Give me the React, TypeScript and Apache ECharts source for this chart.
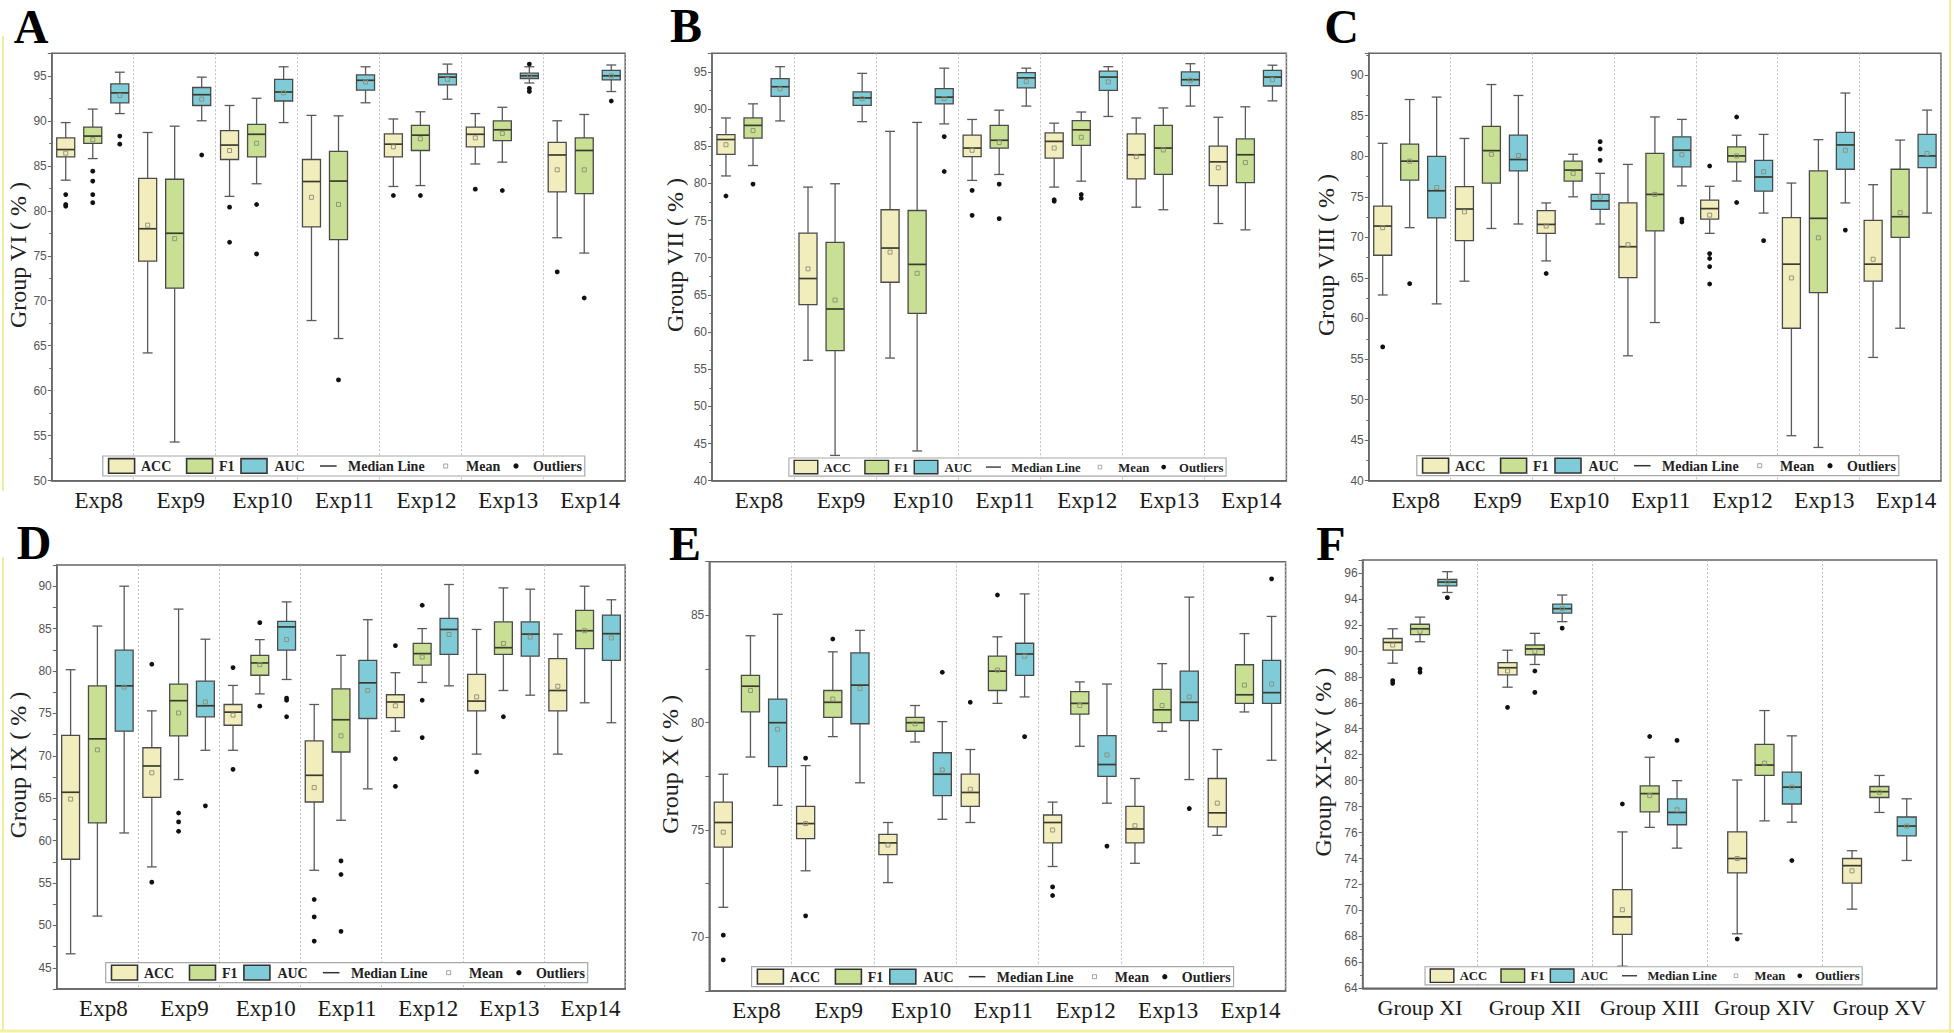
import React, { useEffect, useRef } from 'react';
import * as echarts from 'echarts';

// ---------- categories ----------
const EXP_CATS = ['Exp8', 'Exp9', 'Exp10', 'Exp11', 'Exp12', 'Exp13', 'Exp14'];
const GROUP_CATS = ['Group XI', 'Group XII', 'Group XIII', 'Group XIV', 'Group XV'];
const METRICS = ['ACC', 'F1', 'AUC'];

// ---------- data: each row = [min, Q1, median, Q3, max, mean] ----------
// outliers: [categoryIndex, metricIndex (0 ACC, 1 F1, 2 AUC), value]
const A_ACC = [
  [83.4, 86.0, 86.8, 88.1, 89.8, 86.4],
  [64.2, 74.4, 78.0, 83.6, 88.7, 78.4],
  [81.6, 85.7, 87.3, 88.9, 91.7, 86.7],
  [67.8, 78.2, 83.25, 85.7, 90.6, 81.5],
  [82.7, 86.0, 87.4, 88.55, 90.2, 87.1],
  [85.2, 87.1, 88.5, 89.3, 90.8, 88.1],
  [77.0, 82.1, 86.2, 87.6, 90.0, 84.55],
];
const A_F1 = [
  [85.8, 87.5, 88.3, 89.3, 91.3, 87.9],
  [54.3, 71.4, 77.5, 83.5, 89.4, 76.9],
  [83.0, 86.0, 88.5, 89.6, 92.5, 87.5],
  [65.8, 76.8, 83.3, 86.6, 90.55, 80.7],
  [82.8, 86.7, 88.4, 89.5, 91.0, 88.0],
  [85.4, 87.8, 89.0, 90.0, 91.5, 88.6],
  [75.3, 81.9, 86.7, 88.1, 90.7, 84.55],
];
const A_AUC = [
  [90.8, 92.0, 93.1, 94.1, 95.4, 92.8],
  [90.0, 91.7, 92.9, 93.7, 94.85, 92.4],
  [89.8, 92.2, 93.2, 94.6, 96.0, 93.1],
  [92.0, 93.4, 94.5, 95.1, 96.0, 94.3],
  [92.4, 94.0, 94.85, 95.2, 96.3, 94.6],
  [94.2, 94.7, 95.0, 95.3, 96.0, 95.0],
  [93.25, 94.55, 95.0, 95.6, 96.2, 95.0],
];
const A_OUT = [
  [0, 0, 81.8], [0, 0, 80.7], [0, 0, 80.5],
  [0, 1, 84.4], [0, 1, 83.3], [0, 1, 81.8], [0, 1, 80.9],
  [0, 2, 88.3], [0, 2, 87.4],
  [1, 2, 86.2],
  [2, 0, 80.4], [2, 0, 76.5], [2, 1, 80.7], [2, 1, 75.2],
  [3, 1, 61.2],
  [4, 0, 81.7], [4, 1, 81.7],
  [5, 0, 82.4], [5, 1, 82.25], [5, 2, 96.3], [5, 2, 93.6], [5, 2, 93.25],
  [6, 0, 73.2], [6, 1, 70.3], [6, 2, 92.2],
];

const B_ACC = [
  [81.0, 83.9, 85.9, 86.55, 88.8, 85.2],
  [56.2, 63.7, 67.2, 73.3, 79.5, 68.5],
  [56.5, 66.7, 71.3, 76.45, 87.0, 70.75],
  [80.4, 83.6, 84.75, 86.5, 88.6, 84.45],
  [79.5, 83.4, 85.65, 86.8, 88.1, 84.75],
  [76.8, 80.6, 83.85, 86.65, 88.8, 83.6],
  [74.6, 79.7, 82.9, 85.0, 88.9, 82.1],
];
const B_F1 = [
  [82.4, 86.1, 87.8, 88.8, 90.7, 87.1],
  [43.4, 57.5, 63.1, 72.05, 79.95, 64.3],
  [44.0, 62.5, 69.1, 76.35, 88.2, 67.9],
  [81.2, 84.75, 85.8, 87.8, 89.85, 85.5],
  [80.3, 85.1, 87.2, 88.45, 89.6, 86.2],
  [76.45, 81.2, 84.75, 87.8, 90.15, 84.5],
  [73.75, 80.1, 83.85, 86.0, 90.3, 82.8],
];
const B_AUC = [
  [88.4, 91.7, 93.0, 94.1, 95.7, 92.7],
  [88.3, 90.5, 91.5, 92.3, 94.8, 91.4],
  [88.0, 90.7, 91.6, 92.75, 95.5, 91.4],
  [90.4, 92.85, 94.2, 94.9, 95.5, 93.7],
  [89.0, 92.5, 94.3, 95.1, 95.7, 93.65],
  [90.4, 93.15, 93.95, 95.0, 96.1, 93.9],
  [91.1, 93.1, 94.3, 95.2, 95.9, 93.95],
];
const B_OUT = [
  [0, 0, 78.3], [0, 1, 79.9],
  [2, 2, 86.3], [2, 2, 81.6],
  [3, 0, 79.05], [3, 0, 75.7], [3, 1, 79.9], [3, 1, 75.25],
  [4, 0, 77.8], [4, 0, 77.6], [4, 1, 78.5], [4, 1, 78.0],
];

const C_ACC = [
  [62.9, 67.8, 71.4, 73.85, 81.6, 71.2],
  [64.6, 69.6, 73.5, 76.25, 82.2, 73.15],
  [67.1, 70.5, 71.6, 73.3, 74.25, 71.4],
  [55.4, 65.05, 68.85, 74.25, 79.0, 69.1],
  [70.5, 72.25, 73.55, 74.6, 76.3, 72.75],
  [45.55, 58.8, 66.7, 72.45, 76.7, 65.0],
  [55.2, 64.6, 66.7, 72.1, 76.5, 67.3],
];
const C_F1 = [
  [71.2, 77.05, 79.4, 81.5, 87.0, 79.4],
  [71.1, 76.7, 80.7, 83.7, 88.85, 80.25],
  [75.0, 76.95, 78.3, 79.4, 80.25, 77.9],
  [59.5, 70.8, 75.3, 80.35, 84.85, 75.3],
  [76.95, 79.3, 80.05, 81.15, 82.6, 80.05],
  [44.1, 63.2, 72.35, 78.2, 82.05, 69.95],
  [58.8, 70.0, 72.55, 78.4, 82.0, 73.05],
];
const C_AUC = [
  [61.8, 72.4, 75.75, 80.0, 87.3, 76.15],
  [71.65, 78.2, 79.6, 82.6, 87.5, 80.1],
  [71.65, 73.45, 74.5, 75.3, 77.9, 75.0],
  [76.35, 78.7, 80.75, 82.4, 84.55, 80.2],
  [73.0, 75.7, 77.45, 79.5, 82.7, 78.1],
  [74.25, 78.4, 81.4, 82.95, 87.8, 80.75],
  [73.0, 78.6, 80.05, 82.7, 85.7, 80.35],
];
const C_OUT = [
  [0, 0, 56.5], [0, 1, 64.3],
  [2, 0, 65.55], [2, 2, 81.8], [2, 2, 80.9], [2, 2, 79.5],
  [3, 2, 72.25], [3, 2, 71.9],
  [4, 0, 78.8], [4, 0, 68.0], [4, 0, 67.4], [4, 0, 66.4], [4, 0, 64.25],
  [4, 1, 84.85], [4, 1, 74.3], [4, 2, 69.6],
  [5, 2, 70.9],
];

const D_ACC = [
  [46.65, 57.8, 65.7, 72.4, 80.15, 64.9],
  [56.9, 65.1, 68.8, 70.95, 75.3, 68.0],
  [70.65, 73.6, 75.15, 76.05, 78.3, 74.8],
  [56.5, 64.55, 67.7, 71.75, 76.05, 66.25],
  [72.9, 74.5, 76.35, 77.2, 79.8, 75.9],
  [70.2, 75.3, 76.45, 79.6, 84.9, 76.95],
  [70.2, 75.3, 77.7, 81.45, 84.35, 78.2],
];
const D_F1 = [
  [51.1, 62.1, 72.0, 78.25, 85.3, 70.7],
  [67.2, 72.35, 76.5, 78.45, 87.3, 75.05],
  [77.3, 79.5, 80.95, 81.85, 83.7, 80.75],
  [62.4, 70.45, 74.25, 77.9, 81.85, 72.35],
  [78.65, 80.7, 82.05, 83.25, 85.0, 81.65],
  [77.7, 81.95, 82.75, 85.8, 89.8, 83.25],
  [76.25, 82.65, 84.75, 87.15, 90.0, 84.75],
];
const D_AUC = [
  [60.9, 72.9, 78.25, 82.45, 90.0, 78.1],
  [70.65, 74.6, 75.9, 78.8, 83.75, 76.35],
  [79.0, 82.45, 85.2, 85.85, 88.15, 83.7],
  [66.1, 74.4, 78.6, 81.25, 86.05, 77.7],
  [78.25, 81.95, 84.9, 86.2, 90.2, 84.3],
  [77.15, 81.75, 84.35, 85.8, 89.65, 84.0],
  [73.9, 81.25, 84.4, 86.6, 88.4, 83.9],
];
const D_OUT = [
  [1, 0, 80.8], [1, 0, 55.1], [1, 1, 63.25], [1, 1, 62.2], [1, 1, 61.1], [1, 2, 64.1],
  [2, 0, 80.4], [2, 0, 68.4], [2, 1, 85.7], [2, 1, 75.85], [2, 2, 76.8], [2, 2, 76.55], [2, 2, 74.6],
  [3, 0, 53.05], [3, 0, 51.0], [3, 0, 48.15], [3, 1, 57.6], [3, 1, 56.0], [3, 1, 49.3],
  [4, 0, 83.0], [4, 0, 69.65], [4, 0, 66.4], [4, 1, 87.75], [4, 1, 76.55], [4, 1, 72.15],
  [5, 0, 68.1], [5, 1, 74.6],
];

const E_ACC = [
  [71.4, 74.2, 75.35, 76.3, 77.6, 74.9],
  [73.1, 74.6, 75.3, 76.1, 78.0, 75.3],
  [72.55, 73.85, 74.4, 74.8, 75.35, 74.3],
  [75.35, 76.1, 76.75, 77.6, 78.75, 76.9],
  [73.3, 74.4, 75.35, 75.7, 76.3, 75.0],
  [73.45, 74.4, 75.05, 76.1, 77.4, 75.2],
  [74.75, 75.15, 75.8, 77.4, 78.75, 76.25],
];
const E_F1 = [
  [78.4, 80.5, 81.7, 82.2, 84.05, 81.5],
  [79.35, 80.25, 80.95, 81.5, 83.3, 81.1],
  [79.1, 79.6, 80.0, 80.25, 80.8, 79.95],
  [80.9, 81.5, 82.4, 83.1, 84.0, 82.45],
  [78.9, 80.4, 80.9, 81.45, 81.9, 80.8],
  [79.6, 80.0, 80.6, 81.55, 82.75, 80.8],
  [80.5, 80.9, 81.3, 82.7, 84.15, 81.75],
];
const E_AUC = [
  [76.15, 77.95, 80.0, 81.1, 85.05, 79.7],
  [77.2, 79.95, 81.75, 83.25, 84.3, 81.6],
  [75.5, 76.6, 77.6, 78.6, 80.05, 77.8],
  [81.2, 82.2, 83.2, 83.7, 86.0, 83.1],
  [76.25, 77.5, 78.05, 79.4, 81.8, 78.5],
  [77.35, 80.1, 80.95, 82.4, 85.85, 81.2],
  [78.25, 80.9, 81.4, 82.9, 84.95, 81.8],
];
const E_OUT = [
  [0, 0, 70.1], [0, 0, 68.95],
  [1, 0, 78.35], [1, 0, 71.0], [1, 1, 83.9],
  [2, 2, 82.35],
  [3, 0, 80.95], [3, 1, 85.95], [3, 2, 79.35],
  [4, 0, 72.35], [4, 0, 71.95], [4, 2, 74.25],
  [5, 2, 76.0],
  [6, 2, 86.7],
];

const F_ACC = [
  [89.05, 90.05, 90.65, 90.95, 91.7, 90.45],
  [87.2, 88.15, 88.7, 89.1, 90.05, 88.45],
  [65.7, 68.15, 69.5, 71.6, 76.05, 70.05],
  [68.2, 72.9, 74.0, 76.05, 80.05, 74.0],
  [70.1, 72.1, 73.45, 74.0, 74.6, 73.05],
];
const F_F1 = [
  [90.7, 91.25, 91.7, 92.05, 92.6, 91.5],
  [88.95, 89.7, 90.15, 90.45, 91.35, 89.95],
  [76.4, 77.6, 79.0, 79.6, 81.8, 78.85],
  [76.9, 80.4, 81.2, 82.8, 85.4, 81.35],
  [77.55, 78.7, 79.15, 79.55, 80.4, 79.1],
];
const F_AUC = [
  [94.5, 95.0, 95.3, 95.5, 96.1, 95.3],
  [92.25, 92.9, 93.25, 93.6, 94.3, 93.25],
  [74.8, 76.6, 77.55, 78.6, 80.0, 77.75],
  [76.8, 78.2, 79.5, 80.65, 83.45, 79.5],
  [73.85, 75.75, 76.5, 77.2, 78.6, 76.5],
];
const F_OUT = [
  [0, 0, 87.7], [0, 0, 87.5], [0, 1, 88.6], [0, 1, 88.35], [0, 2, 94.1],
  [1, 0, 85.65], [1, 1, 88.45], [1, 1, 86.8], [1, 2, 91.75],
  [2, 0, 78.2], [2, 1, 83.4], [2, 2, 83.1],
  [3, 0, 67.8], [3, 2, 73.85],
];

// ---------- styling ----------
const SERIF = '"Liberation Serif", "Times New Roman", serif';
const SANS = '"Liberation Sans", Arial, sans-serif';
const FILLS = ['#F2EDBD', '#C9DF94', '#80CBD8'];
const AXIS_C = '#666';

const PANELS = [
  { letter: 'A', lx: 31, ly: 26, grid: { left: 51.8, top: 53.3, width: 573.4, height: 427.4 }, cats: EXP_CATS,
    yName: 'Group VI ( % )', nameGap: 21, min: 50, max: 97.5, interval: 5, step: 5, minor: 2,
    data: [A_ACC, A_F1, A_AUC], out: A_OUT, legend: [102.8, 456, 1], off: 0.33, bw: 0.22, shift: 12, xFont: 23 },
  { letter: 'B', lx: 686, ly: 25, grid: { left: 712, top: 53.3, width: 574.4, height: 427.4 }, cats: EXP_CATS,
    yName: 'Group VII ( % )', nameGap: 25, min: 40, max: 97.5, interval: 5, step: 5, minor: 2,
    data: [B_ACC, B_F1, B_AUC], out: B_OUT, legend: [788.9, 458, 0.907], off: 0.33, bw: 0.22, shift: 12, xFont: 23 },
  { letter: 'C', lx: 1341.7, ly: 26.5, grid: { left: 1368.8, top: 53.3, width: 572.2, height: 427.4 }, cats: EXP_CATS,
    yName: 'Group VIII ( % )', nameGap: 30.8, min: 40, max: 92.7, interval: 5, step: 5, minor: 2,
    data: [C_ACC, C_F1, C_AUC], out: C_OUT, legend: [1416.8, 455.7, 1], off: 0.33, bw: 0.22, shift: 12, xFont: 23 },
  { letter: 'D', lx: 34, ly: 542.5, grid: { left: 56.8, top: 565, width: 568.4, height: 424 }, cats: EXP_CATS,
    yName: 'Group IX ( % )', nameGap: 27, min: 42.5, max: 92.5, interval: 2.5, step: 5, minor: 0,
    data: [D_ACC, D_F1, D_AUC], out: D_OUT, legend: [105.7, 962.7, 1], off: 0.33, bw: 0.22, shift: 12, xFont: 23 },
  { letter: 'E', lx: 685, ly: 543, grid: { left: 709.3, top: 561.7, width: 576.3, height: 429.3 }, cats: EXP_CATS,
    yName: 'Group X ( % )', nameGap: 27, min: 67.5, max: 87.5, interval: 2.5, step: 5, minor: 0,
    data: [E_ACC, E_F1, E_AUC], out: E_OUT, legend: [751.6, 966.7, 1], off: 0.33, bw: 0.22, shift: 12, xFont: 23 },
  { letter: 'F', lx: 1331, ly: 543, grid: { left: 1362.6, top: 560, width: 574.2, height: 428.3 }, cats: GROUP_CATS,
    yName: 'Group XI-XV ( % )', nameGap: 27.6, min: 64, max: 97, interval: 2, step: 2, minor: 2,
    data: [F_ACC, F_F1, F_AUC], out: F_OUT, legend: [1425, 966.7, 0.907], off: 0.238, bw: 0.165, shift: 0, xFont: 22 },
];

function boxSeries(p: any, gi: number, m: number, rows: number[][]) {
  const n = p.cats.length;
  return {
    type: 'custom',
    name: METRICS[m],
    xAxisIndex: gi,
    yAxisIndex: gi,
    z: 3,
    data: rows.map((r, i) => [i, ...r]),
    encode: { x: 0, y: [1, 2, 3, 4, 5, 6] },
    renderItem: (params: any, api: any) => {
      const cat = api.value(0);
      const band = params.coordSys.width / n;
      const cx = api.coord([cat, api.value(3)])[0] + (m - 1) * band * p.off;
      const w = band * p.bw;
      const cap = w * 0.55;
      const Y = (d: number) => api.coord([cat, api.value(d)])[1];
      const yMin = Y(1), yQ1 = Y(2), yMed = Y(3), yQ3 = Y(4), yMax = Y(5), yMean = Y(6);
      const ws = { stroke: '#5a5a5a', lineWidth: 1.3 };
      return {
        type: 'group',
        children: [
          { type: 'line', shape: { x1: cx, y1: yMax, x2: cx, y2: yQ3 }, style: ws },
          { type: 'line', shape: { x1: cx, y1: yQ1, x2: cx, y2: yMin }, style: ws },
          { type: 'line', shape: { x1: cx - cap / 2, y1: yMax, x2: cx + cap / 2, y2: yMax }, style: ws },
          { type: 'line', shape: { x1: cx - cap / 2, y1: yMin, x2: cx + cap / 2, y2: yMin }, style: ws },
          { type: 'rect', shape: { x: cx - w / 2, y: yQ3, width: w, height: yQ1 - yQ3 },
            style: { fill: FILLS[m], stroke: '#4a4a4a', lineWidth: 1.3 } },
          { type: 'line', shape: { x1: cx - w / 2, y1: yMed, x2: cx + w / 2, y2: yMed },
            style: { stroke: '#3b3b2e', lineWidth: 1.7 } },
          { type: 'rect', shape: { x: cx - 2, y: yMean - 2, width: 4, height: 4 },
            style: { fill: 'none', stroke: '#8c8c74', lineWidth: 0.9 } },
        ],
      };
    },
  };
}

function outlierSeries(p: any, gi: number, rows: number[][]) {
  const n = p.cats.length;
  return {
    type: 'custom',
    name: 'Outliers',
    xAxisIndex: gi,
    yAxisIndex: gi,
    z: 4,
    data: rows,
    encode: { x: 0, y: 2 },
    renderItem: (params: any, api: any) => {
      const cat = api.value(0);
      const m = api.value(1);
      const band = params.coordSys.width / n;
      const pt = api.coord([cat, api.value(2)]);
      return {
        type: 'circle',
        shape: { cx: pt[0] + (m - 1) * band * p.off, cy: pt[1], r: 2.4 },
        style: { fill: '#111' },
      };
    },
  };
}

function legendGraphic(pos: number[]) {
  const [x, y, s] = pos;
  const tf = { fontFamily: SERIF, fontWeight: 'bold', fontSize: 14, fill: '#222', verticalAlign: 'middle' };
  const icon = (ix: number, fill: string) => ({
    type: 'rect', z: 101, shape: { x: ix, y: 2.6, width: 26, height: 14.7 },
    style: { fill, stroke: '#333', lineWidth: 1.6 },
  });
  const txt = (tx: number, t: string) => ({ type: 'text', z: 102, style: { ...tf, text: t, x: tx, y: 10.5 } });
  return {
    type: 'group', x, y, scaleX: s, scaleY: s, z: 100,
    children: [
      { type: 'rect', z: 100, shape: { x: 0, y: 0, width: 482, height: 20 },
        style: { fill: '#fff', stroke: '#a8a8a8', lineWidth: 1.2 } },
      icon(5.8, FILLS[0]), txt(38.2, 'ACC'),
      icon(83.8, FILLS[1]), txt(116.2, 'F1'),
      icon(138.2, FILLS[2]), txt(171.7, 'AUC'),
      { type: 'line', z: 101, shape: { x1: 217.2, y1: 10, x2: 233.8, y2: 10 }, style: { stroke: '#333', lineWidth: 1.5 } },
      txt(245.2, 'Median Line'),
      { type: 'rect', z: 101, shape: { x: 340.9, y: 8, width: 4, height: 4 }, style: { fill: 'none', stroke: '#999', lineWidth: 0.9 } },
      txt(363.2, 'Mean'),
      { type: 'circle', z: 101, shape: { cx: 413.2, cy: 10, r: 2.6 }, style: { fill: '#111' } },
      txt(430.2, 'Outliers'),
    ],
  };
}

function buildOption() {
  const grids: any[] = [];
  const xAxes: any[] = [];
  const yAxes: any[] = [];
  const series: any[] = [];
  const graphics: any[] = [];

  PANELS.forEach((p, gi) => {
    grids.push({ ...p.grid, show: true, borderColor: AXIS_C, borderWidth: 1.5, backgroundColor: 'transparent' });
    xAxes.push({
      gridIndex: gi,
      type: 'category',
      data: p.cats,
      boundaryGap: true,
      axisLine: { show: true, lineStyle: { color: AXIS_C, width: 1.5 } },
      axisTick: { show: false },
      axisLabel: {
        interval: 0, margin: 8, fontFamily: SERIF, fontSize: p.xFont, color: '#1a1a1a',
        padding: [0, 0, 0, p.shift],
      },
      splitLine: { show: true, interval: 0, lineStyle: { color: '#b0b0b0', width: 0.8, type: [2, 2] } },
    });
    const step = p.step;
    yAxes.push({
      gridIndex: gi,
      type: 'value',
      min: p.min,
      max: p.max,
      interval: p.interval,
      name: p.yName,
      nameLocation: 'middle',
      nameGap: p.nameGap,
      nameTextStyle: { fontFamily: SERIF, fontSize: 24, color: '#222', padding: [0, 0, 0, 24] },
      axisLine: { show: true, lineStyle: { color: AXIS_C, width: 1.5 } },
      axisTick: { show: true, length: 4, lineStyle: { color: AXIS_C, width: 1 } },
      minorTick: { show: p.minor > 0, splitNumber: p.minor || 2, length: 2.5, lineStyle: { color: AXIS_C, width: 1 } },
      axisLabel: {
        margin: 5, fontSize: 12, color: '#555', fontFamily: SANS,
        formatter: (v: number) => (Math.abs(v / step - Math.round(v / step)) < 1e-6 ? String(v) : ''),
      },
      splitLine: { show: false },
    });
    p.data.forEach((rows, m) => series.push(boxSeries(p, gi, m, rows)));
    series.push(outlierSeries(p, gi, p.out));
    graphics.push({
      type: 'text', z: 100,
      style: { text: p.letter, x: p.lx, y: p.ly, fontFamily: SERIF, fontWeight: 'bold', fontSize: 48,
        fill: '#000', align: 'center', verticalAlign: 'middle' },
    });
    graphics.push(legendGraphic(p.legend));
  });

  const yellow = { stroke: '#F2EC9E', lineWidth: 2 };
  graphics.push({ type: 'line', z: 50, shape: { x1: 3, y1: 36, x2: 3, y2: 491 }, style: yellow });
  graphics.push({ type: 'line', z: 50, shape: { x1: 3, y1: 557, x2: 3, y2: 1031 }, style: yellow });
  graphics.push({ type: 'line', z: 50, shape: { x1: 0, y1: 1031, x2: 1954, y2: 1031 }, style: { stroke: '#F5F0A8', lineWidth: 3 } });
  graphics.push({ type: 'line', z: 50, shape: { x1: 1950, y1: 0, x2: 1950, y2: 1033 }, style: yellow });

  return {
    animation: false,
    backgroundColor: '#ffffff',
    grid: grids,
    xAxis: xAxes,
    yAxis: yAxes,
    series,
    graphic: graphics,
  };
}

export default function App() {
  const ref = useRef<HTMLDivElement>(null);
  useEffect(() => {
    if (!ref.current) return;
    const chart = echarts.init(ref.current, null, { renderer: 'svg', width: 1954, height: 1033 });
    chart.setOption(buildOption() as any);
    return () => chart.dispose();
  }, []);
  return (
    <div
      ref={ref}
      style={{ position: 'fixed', left: 0, top: 0, width: 1954, height: 1033, background: '#fff' }}
    />
  );
}
